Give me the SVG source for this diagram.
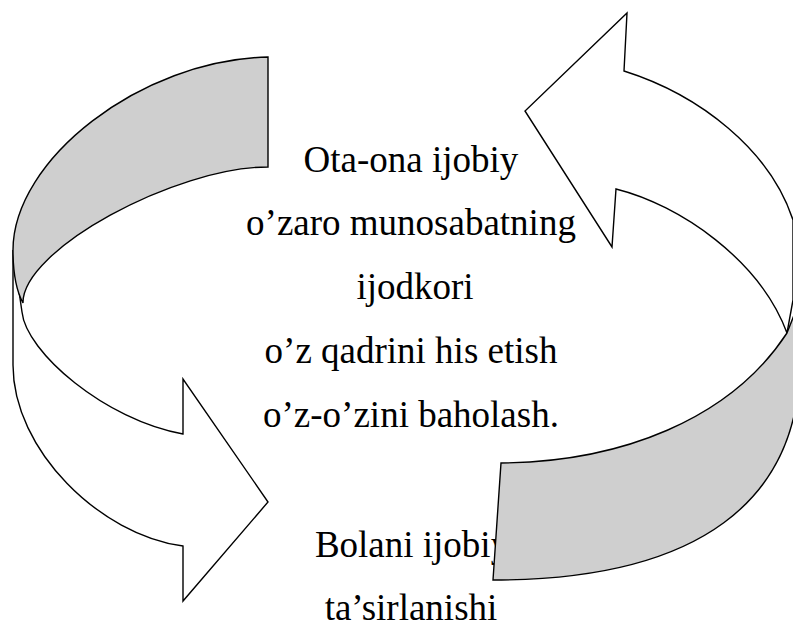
<svg xmlns="http://www.w3.org/2000/svg" width="793" height="628" viewBox="0 0 793 628">
<style>
.bg{fill:#ffffff}
.face{fill:#ffffff;stroke:#000;stroke-width:1.4;stroke-linejoin:miter}
.back{fill:#cfcfcf;stroke:#000;stroke-width:1.4;stroke-linejoin:miter}
.t{font-family:"Liberation Serif","Times New Roman",serif;font-size:37px;fill:#000;text-anchor:middle}
</style>
<rect class="bg" x="0" y="0" width="793" height="628"/>
<g id="node-parent">
<text class="t" x="411" y="172">Ota-ona ijobiy</text>
<text class="t" x="411" y="235">o’zaro munosabatning</text>
<text class="t" x="415" y="299">ijodkori</text>
<text class="t" x="411" y="363">o’z qadrini his etish</text>
<text class="t" x="411" y="427">o’z-o’zini baholash.</text>
</g>
<g id="node-child">
<text class="t" x="412" y="557">Bolani ijobiy</text>
<text class="t" x="411" y="620">ta’sirlanishi</text>
</g>
<g id="connectors">
<g id="arrow-left">
<path class="face" d="M13,250 L13,365 C13,450 100,535 183,546 L183,601 L268,502 L183,379 L183,434 C105,420 26,352 22,312 L13,250 Z"/>
<path class="back" d="M268,57 C140,60 13,160 13,250 C13,275 17,292 23,303 C22,250 175,167 268,167 Z"/>
</g>
<g id="arrow-right">
<path class="face" d="M624,71 C700,95 770,150 793,220 L793,300 L787,333 C760,260 680,205 616,189 L612,247 L525,111 L627,13 Z"/>
<path class="back" d="M501,463 C620,462 730,420 787,333 L800,300 L800,360 C800,500 700,580 493,580 Z"/>
</g>
</g>
</svg>
